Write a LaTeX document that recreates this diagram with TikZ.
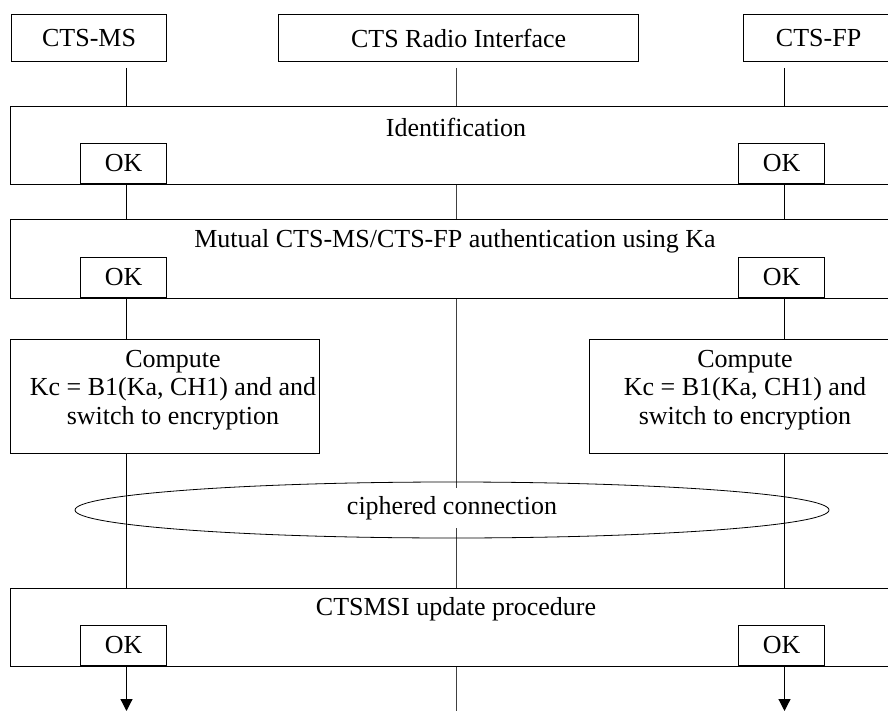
\documentclass[tikz,border=0pt]{standalone}
\usepackage{fontspec}
\setmainfont{Liberation Serif}
\usetikzlibrary{arrows.meta,positioning,shapes.geometric}
\tikzset{
	box/.style={draw, fill=white, line width=0.6pt, align=center, inner sep=0pt},
	okbox/.style={box, minimum width=43pt, minimum height=20pt, anchor=south west},
	phasebox/.style={box, minimum width=441.5pt, minimum height=39pt, anchor=north west},
	phaselabel/.style={inner sep=0pt, align=center},
	lifeline/.style={line width=0.6pt},
	radioline/.style={line width=0.4pt, black!75},
	arrow/.style={-{Triangle[length=6pt, width=6pt]}, line width=0.6pt}
}

\begin{document}
\begin{tikzpicture}[x=0.5pt, y=-0.5pt, font=\fontsize{13}{14.3}\selectfont]
	\useasboundingbox (0,0) rectangle (888,711);
	
	%% -- Lifeline end points
	\coordinate (mstop) at (126.5,68);
	\coordinate (msend) at (126.5,711);
	\coordinate (radiotop) at (456,68);
	\coordinate (radioend) at (456,711);
	\coordinate (fptop) at (784.5,68);
	\coordinate (fpend) at (784.5,711);
	
	\draw[radioline] (radiotop) -- (radioend);
	\draw[arrow] (mstop) -- (msend);
	\draw[arrow] (fptop) -- (fpend);
	
	%% -- Entities (top row)
	\node[box, minimum width=77.5pt, minimum height=23.5pt, anchor=north west]
	(ms) at (11,14) {CTS-MS};
	\node[box, minimum width=180pt, minimum height=23.5pt, anchor=north west]
	(radio) at (278,14) {CTS Radio Interface};
	\node[box, minimum width=75pt, minimum height=23.5pt, anchor=north west]
	(fp) at (743,14) {CTS-FP};
	
	%% -- Identification
	\node[phasebox] (ident) at (10,106) {};
	\node[phaselabel] (identlabel) at (456,127) {Identification};
	\node[okbox] (identokms) at (80,184) {OK};
	\node[okbox] (identokfp) at (738,184) {OK};
	
	%% -- Mutual authentication
	\node[phasebox, minimum height=39.5pt] (auth) at (10,219) {};
	\node[phaselabel] (authlabel) at (455,241)
	{Mutual CTS-MS/CTS-FP authentication using Ka};
	\node[okbox] (authokms) at (80,298) {OK};
	\node[okbox] (authokfp) at (738,298) {OK};
	
	%% -- Key computation on both sides
	\node[box, minimum width=154.5pt, minimum height=57pt, anchor=north west]
	(compms) at (10,339) {};
	\node[phaselabel] (compmslabel) at (173,390)
	{Compute\\Kc = B1(Ka, CH1) and and\\switch to encryption};
	\node[box, minimum width=156pt, minimum height=57pt, anchor=north west]
	(compfp) at (589,339) {};
	\node[phaselabel] (compfplabel) at (745,390)
	{Compute\\Kc = B1(Ka, CH1) and\\switch to encryption};
	
	%% -- Ciphered connection
	\node[draw, ellipse, line width=0.4pt, inner sep=0pt,
	minimum width=377pt, minimum height=28pt] (cipher) at (452,510) {};
	\node[fill=white, inner sep=4pt] (cipherlabel) at (452,508)
	{ciphered connection};
	
	%% -- CTSMSI update
	\node[phasebox] (update) at (10,588) {};
	\node[phaselabel] (updatelabel) at (456,609) {CTSMSI update procedure};
	\node[okbox] (updateokms) at (80,666) {OK};
	\node[okbox] (updateokfp) at (738,666) {OK};
	
\end{tikzpicture}
\end{document}
